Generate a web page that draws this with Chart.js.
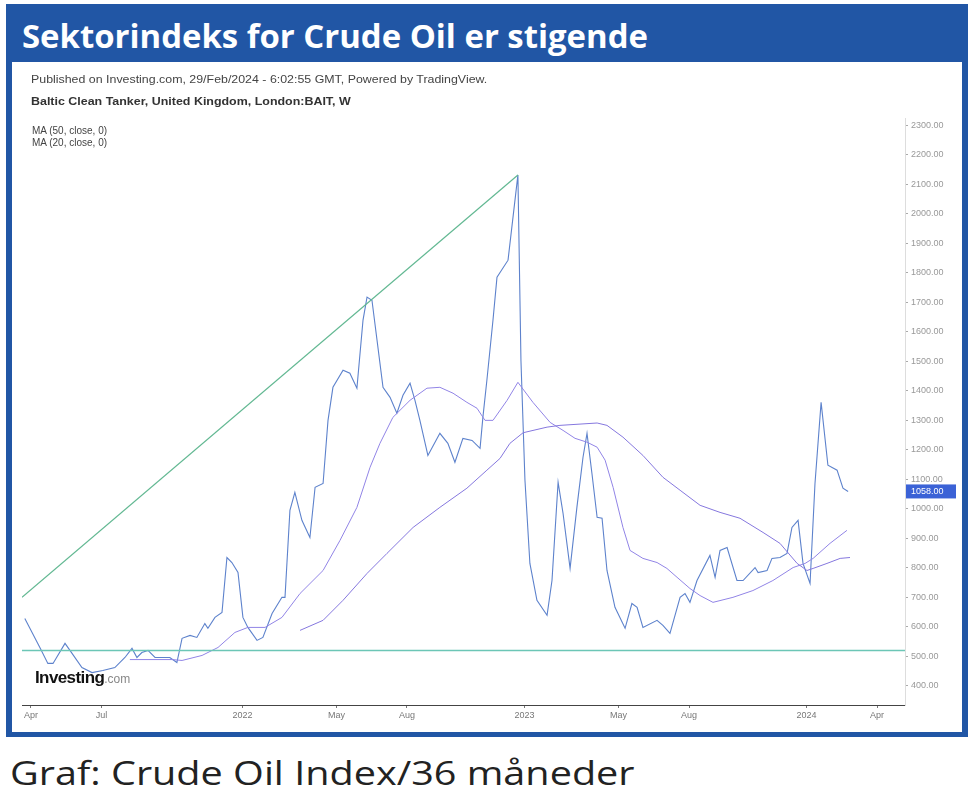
<!DOCTYPE html>
<html>
<head>
<meta charset="utf-8">
<script src="https://cdn.jsdelivr.net/npm/chart.js@4.4.1/dist/chart.umd.min.js"></script>
<style>
  body { margin: 0; background: #fff; width: 971px; height: 808px; position: relative; overflow: hidden; }
  #frame { position: absolute; left: 6px; top: 4px; width: 962px; height: 733px; background: #2156a5; }
  #inner { position: absolute; left: 12px; top: 62px; width: 950px; height: 670px; background: #fff; }
  #title { position: absolute; left: 22px; top: 13px; font: 700 33px "Open Sans", sans-serif; color: #fff; white-space: nowrap; transform-origin: left top; }
  #caption { position: absolute; left: 10px; top: 750px; font: 400 33px "Open Sans", sans-serif; color: #222; white-space: nowrap; transform-origin: left top; }
  .hdr { position: absolute; font-family: "Liberation Sans", Arial, sans-serif; color: #444; white-space: nowrap; transform-origin: left top; }
  #logo { position: absolute; left: 35px; top: 668px; font: 700 17px "Liberation Sans", Arial, sans-serif; color: #111; letter-spacing: -0.6px; white-space: nowrap; }
  #logo span { font-weight: 400; font-size: 12px; color: #888; letter-spacing: 0; }
  canvas { position: absolute; left: 12px; top: 62px; }
</style>
</head>
<body>
<div id="frame"></div>
<div id="inner"></div>
<div id="title" data-w="626">Sektorindeks for Crude Oil er stigende</div>
<canvas id="chartOil" width="950" height="668"></canvas>
<div class="hdr" id="pub" data-w="456" style="left:31px; top:73px; font-size:11px;">Published on Investing.com, 29/Feb/2024 - 6:02:55 GMT, Powered by TradingView.</div>
<div class="hdr" id="sym" data-w="320" style="left:31px; top:95px; font-size:11px; font-weight:700; color:#333;">Baltic Clean Tanker, United Kingdom, London:BAIT, W</div>
<div class="hdr" style="left:32px; top:125px; font-size:10px; line-height:12px;">MA (50, close, 0)<br>MA (20, close, 0)</div>
<div id="logo">Investing<span>.com</span></div>
<div id="caption" data-w="625">Graf: Crude Oil Index/36 måneder</div>
<script>
// x values are months counted from April 2021
const priceMonth = [-0.26, 0.38, 0.72, 0.94, 1.45, 1.66, 2.17, 2.60, 3.06, 3.57, 4.00, 4.30, 4.51, 4.72, 4.98, 5.28, 5.91, 6.21, 6.43, 6.77,
    7.06, 7.40, 7.53, 7.83, 8.13, 8.34, 8.55, 8.81, 9.02, 9.23, 9.62, 9.87, 10.26, 10.68, 10.81, 11.02, 11.23, 11.53, 11.87, 12.09,
    12.43, 12.64, 12.85, 13.28, 13.57, 13.87, 14.13, 14.30, 14.51, 14.98, 15.28, 15.57, 15.83, 16.13, 16.34, 16.55, 16.89, 17.40, 17.74, 18.04,
    18.38, 18.77, 19.11, 19.23, 19.40, 19.66, 19.83, 20.30, 20.72, 20.85, 21.02, 21.23, 21.53, 21.96, 22.17, 22.43, 22.64, 22.94, 23.23, 23.49,
    23.66, 23.87, 24.09, 24.30, 24.51, 24.85, 25.28, 25.57, 25.79, 26.04, 26.64, 26.89, 27.19, 27.62, 27.83, 28.04, 28.34, 28.89, 29.11, 29.32,
    29.62, 30.04, 30.30, 30.81, 30.94, 31.32, 31.53, 31.87, 32.17, 32.38, 32.64, 32.85, 33.15, 33.36, 33.62, 33.91, 34.30, 34.55, 34.77];
const priceValue = [627, 529, 475, 475, 543, 519, 461, 444, 451, 461, 495, 526, 495, 512, 519, 495, 495, 478, 560, 570,
    563, 610, 594, 631, 648, 834, 817, 783, 631, 597, 553, 563, 644, 699, 699, 994, 1055, 960, 902, 1072,
    1085, 1299, 1411, 1469, 1459, 1408, 1639, 1717, 1706, 1411, 1377, 1323, 1384, 1425, 1367, 1299, 1180, 1255, 1221, 1157,
    1238, 1231, 1204, 1309, 1435, 1639, 1784, 1842, 2131, 1500, 1096, 814, 689, 638, 756, 1089, 984, 797, 1004, 1174,
    1255, 1119, 970, 967, 790, 665, 594, 678, 665, 597, 621, 604, 577, 699, 712, 682, 756, 841, 767, 858,
    868, 756, 756, 800, 783, 790, 831, 834, 848, 936, 960, 814, 746, 1085, 1360, 1147, 1130, 1069, 1058];

const ma20Month = [4.21, 6.00, 6.43, 7.28, 7.96, 8.68, 9.23, 9.96, 10.68, 11.45, 12.43, 13.15, 13.87, 14.43, 14.85, 15.40, 16.13, 16.85, 17.40, 17.96,
    18.55, 18.98, 19.32, 19.66, 20.26, 20.72, 21.36, 22.09, 22.64, 23.15, 23.66, 24.09, 24.43, 24.77, 25.19, 25.49, 26.04, 26.64, 27.06, 27.49,
    28.04, 28.47, 29.02, 29.87, 30.72, 31.57, 32.43, 32.94, 33.28, 34.00, 34.72];
const ma20Value = [488, 488, 485, 502, 529, 580, 597, 597, 631, 712, 790, 892, 1004, 1140, 1221, 1309, 1367, 1408, 1411, 1391,
    1360, 1340, 1299, 1299, 1367, 1428, 1360, 1292, 1265, 1238, 1225, 1208, 1164, 1072, 936, 858, 831, 817, 797, 767,
    729, 705, 682, 699, 722, 756, 800, 814, 831, 882, 926];

const ma50Month = [11.45, 12.43, 13.28, 14.30, 15.15, 16.26, 17.40, 18.55, 19.40, 19.96, 20.38, 20.94, 21.96, 22.51, 24.09, 24.51, 25.19, 26.04, 26.89, 27.62,
    28.47, 29.32, 30.17, 31.15, 31.87, 32.60, 33.02, 33.28, 33.87, 34.43, 34.85];
const ma50Value = [587, 621, 689, 780, 848, 936, 1004, 1069, 1130, 1170, 1221, 1257, 1276, 1282, 1290, 1282, 1242, 1180, 1106, 1062,
    1011, 987, 967, 919, 882, 814, 790, 797, 814, 831, 834];

const trendMonth = [-0.38, 20.72];
const trendValue = [699, 2131];
const supportMonth = [-0.38, 37.19];
const supportValue = [519, 519];

const lastPrice = 1058;
const yTicks = [400, 500, 600, 700, 800, 900, 1000, 1100, 1200, 1300, 1400, 1500, 1600, 1700, 1800, 1900, 2000, 2100, 2200, 2300];
const xTickMonths = [0, 3, 9, 13, 16, 21, 25, 28, 33, 36];
const xTickLabels = ['Apr', 'Jul', '2022', 'May', 'Aug', '2023', 'May', 'Aug', '2024', 'Apr'];

function pts(xs, ys) {
    return xs.map((x, i) => ({ x: x, y: ys[i] }));
}

// fit text widths to the picture
document.querySelectorAll('[data-w]').forEach(el => {
    el.style.transform = 'scaleX(' + (el.dataset.w / el.offsetWidth) + ')';
});

const lastPriceLabel = {
    id: 'lastPriceLabel',
    afterDraw(chart) {
        const ctx = chart.ctx;
        const y = chart.scales.y.getPixelForValue(lastPrice);
        const x = chart.chartArea.right + 1;
        ctx.save();
        ctx.fillStyle = '#3b62d6';
        ctx.fillRect(x, y - 7, 50, 14);
        ctx.fillStyle = '#fff';
        ctx.font = '9px "Liberation Sans", Arial, sans-serif';
        ctx.textBaseline = 'middle';
        ctx.fillText(lastPrice.toFixed(2), x + 5, y);
        ctx.restore();
    }
};

const ctxOil = document.getElementById('chartOil').getContext('2d');
const chartOil = new Chart(ctxOil, {
    type: 'line',
    data: {
        datasets: [{
            label: 'Support',
            data: pts(supportMonth, supportValue),
            borderColor: '#6cc6b6',
            borderWidth: 1.5
        },
        {
            label: 'Trend',
            data: pts(trendMonth, trendValue),
            borderColor: '#62b892',
            borderWidth: 1.2
        },
        {
            label: 'MA (50, close, 0)',
            data: pts(ma50Month, ma50Value),
            borderColor: '#8577de',
            borderWidth: 1
        },
        {
            label: 'MA (20, close, 0)',
            data: pts(ma20Month, ma20Value),
            borderColor: '#9184e6',
            borderWidth: 1
        },
        {
            label: 'BAIT',
            data: pts(priceMonth, priceValue),
            borderColor: '#5d82cc',
            borderWidth: 1.1
        }]
    },
    options: {
        responsive: false,
        animation: false,
        parsing: false,
        elements: { point: { radius: 0 }, line: { tension: 0, fill: false } },
        layout: { padding: { left: 10, top: 56, right: 0, bottom: 0 } },
        plugins: { legend: { display: false }, tooltip: { enabled: false } },
        scales: {
            x: {
                type: 'linear',
                min: -0.38,
                max: 37.19,
                afterBuildTicks: axis => { axis.ticks = xTickMonths.map(v => ({ value: v })); },
                afterFit: axis => { axis.height = 25; },
                ticks: {
                    callback: v => xTickLabels[xTickMonths.indexOf(v)],
                    font: { size: 9, family: '"Liberation Sans", Arial, sans-serif' },
                    color: '#777',
                    padding: 2,
                    maxRotation: 0,
                    autoSkip: false
                },
                grid: { drawOnChartArea: false, tickLength: 3, color: '#777' },
                border: { color: '#444', width: 1 }
            },
            y: {
                type: 'linear',
                position: 'right',
                min: 334,
                max: 2324,
                afterBuildTicks: axis => { axis.ticks = yTicks.map(v => ({ value: v })); },
                afterFit: axis => { axis.width = 57; },
                ticks: {
                    callback: v => v.toFixed(2),
                    font: { size: 9, family: '"Liberation Sans", Arial, sans-serif' },
                    color: '#999',
                    padding: 3,
                    autoSkip: false
                },
                grid: { drawOnChartArea: false, tickLength: 3, color: '#aaa' },
                border: { color: '#ddd', width: 1 }
            }
        }
    },
    plugins: [lastPriceLabel]
});
</script>
</body>
</html>
